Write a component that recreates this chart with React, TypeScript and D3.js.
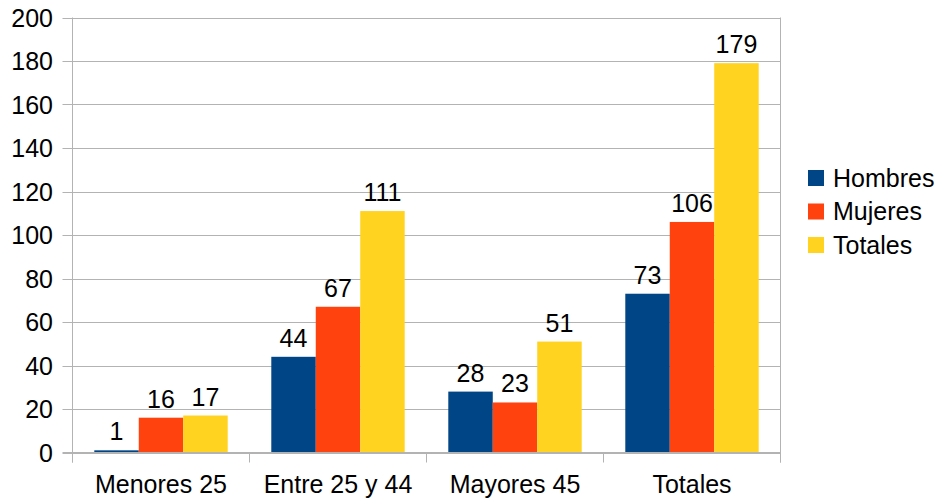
import React, { useEffect, useRef } from 'react';
import * as d3 from 'd3';

const categories = ['Menores 25', 'Entre 25 y 44', 'Mayores 45', 'Totales'];
const seriesNames = ['Hombres', 'Mujeres', 'Totales'];
const hombres = [1, 44, 28, 73];
const mujeres = [16, 67, 23, 106];
const totales = [17, 111, 51, 179];
const yTicks = [0, 20, 40, 60, 80, 100, 120, 140, 160, 180, 200];
const colors = ['#004586', '#ff420e', '#ffd320'];

const App: React.FC = () => {
  const svgRef = useRef<SVGSVGElement | null>(null);

  useEffect(() => {
    if (!svgRef.current) return;
    const width = 938;
    const height = 499;
    const left = 72.5, right = 780.5, top = 17.5, bottom = 452.5;
    const font = 'Liberation Sans, Arial, sans-serif';
    const fs = 25;

    const svg = d3.select(svgRef.current)
      .attr('width', width)
      .attr('height', height)
      .html('');

    const x = d3.scaleBand<string>().domain(categories).range([left, right]);
    const xs = d3.scaleBand<string>().domain(seriesNames)
      .range([0, x.bandwidth()]).paddingInner(0).paddingOuter(0.49);
    const y = d3.scaleLinear().domain([0, 200]).range([bottom, top]);

    // Grid lines
    svg.append('g')
      .selectAll('line')
      .data(yTicks)
      .enter()
      .append('line')
      .attr('x1', left - 10)
      .attr('x2', right)
      .attr('y1', d => Math.round(y(d)) + 0.5)
      .attr('y2', d => Math.round(y(d)) + 0.5)
      .attr('stroke', '#b3b3b3')
      .attr('stroke-width', 1);

    // Axis lines
    svg.append('line')
      .attr('x1', left).attr('x2', left)
      .attr('y1', top).attr('y2', bottom + 10)
      .attr('stroke', '#b3b3b3');
    svg.append('line')
      .attr('x1', right).attr('x2', right)
      .attr('y1', top).attr('y2', bottom + 10)
      .attr('stroke', '#b3b3b3');

    // Category tick marks
    const bounds = categories.map(c => x(c) as number).concat([right]);
    svg.append('g')
      .selectAll('line')
      .data(bounds)
      .enter()
      .append('line')
      .attr('x1', d => Math.round(d - 0.5) + 0.5)
      .attr('x2', d => Math.round(d - 0.5) + 0.5)
      .attr('y1', bottom)
      .attr('y2', bottom + 10)
      .attr('stroke', '#b3b3b3');

    // Bars
    const series = [hombres, mujeres, totales];
    series.forEach((vals, si) => {
      const g = svg.append('g');
      g.selectAll('rect')
        .data(vals)
        .enter()
        .append('rect')
        .attr('x', (_, i) => (x(categories[i]) as number) + (xs(seriesNames[si]) as number))
        .attr('y', d => y(d))
        .attr('width', xs.bandwidth())
        .attr('height', d => bottom - y(d))
        .attr('fill', colors[si]);

      g.selectAll('text')
        .data(vals)
        .enter()
        .append('text')
        .attr('x', (_, i) => (x(categories[i]) as number) + (xs(seriesNames[si]) as number) + xs.bandwidth() / 2)
        .attr('y', d => y(d) - 10)
        .attr('text-anchor', 'middle')
        .attr('font-family', font)
        .attr('font-size', fs)
        .attr('fill', '#000')
        .text(d => d);
    });

    // Bottom axis line on top of bars
    svg.append('line')
      .attr('x1', left - 10).attr('x2', right)
      .attr('y1', bottom).attr('y2', bottom)
      .attr('stroke', '#b3b3b3');

    // Y labels
    svg.append('g')
      .selectAll('text')
      .data(yTicks)
      .enter()
      .append('text')
      .attr('x', 53)
      .attr('y', d => y(d) + 9)
      .attr('text-anchor', 'end')
      .attr('font-family', font)
      .attr('font-size', fs)
      .attr('fill', '#000')
      .text(d => d);

    // X labels
    svg.append('g')
      .selectAll('text')
      .data(categories)
      .enter()
      .append('text')
      .attr('x', d => (x(d) as number) + x.bandwidth() / 2)
      .attr('y', 493)
      .attr('text-anchor', 'middle')
      .attr('font-family', font)
      .attr('font-size', fs)
      .attr('fill', '#000')
      .text(d => d);

    // Legend
    const legend = svg.append('g');
    seriesNames.forEach((name, i) => {
      const ly = 170 + i * 33.5;
      legend.append('rect')
        .attr('x', 808)
        .attr('y', ly)
        .attr('width', 16)
        .attr('height', 16)
        .attr('fill', colors[i]);
      legend.append('text')
        .attr('x', 833)
        .attr('y', ly + 16.5)
        .attr('font-family', font)
        .attr('font-size', fs)
        .attr('fill', '#000')
        .text(name);
    });
  }, []);

  return (
    <div style={{ position: 'absolute', left: 0, top: 0, background: '#fff' }}>
      <svg ref={svgRef}></svg>
    </div>
  );
};

export default App;
